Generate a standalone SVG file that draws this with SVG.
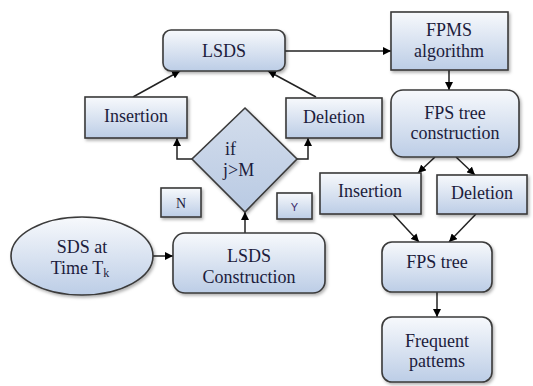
<svg xmlns="http://www.w3.org/2000/svg" width="533" height="386" viewBox="0 0 533 386">
<defs>
<linearGradient id="g" x1="0" y1="0" x2="0" y2="1">
<stop offset="0" stop-color="#f7f9fc"/>
<stop offset="1" stop-color="#bccde6"/>
</linearGradient>
<linearGradient id="gd" x1="0" y1="0" x2="0" y2="1">
<stop offset="0" stop-color="#d3ddec"/>
<stop offset="1" stop-color="#b9cae3"/>
</linearGradient>
<filter id="sh" x="-10%" y="-10%" width="130%" height="130%">
<feDropShadow dx="1.5" dy="2" stdDeviation="1.5" flood-color="#000" flood-opacity="0.3"/>
</filter>
<marker id="ah" viewBox="0 0 10 10" refX="10" refY="5" markerWidth="8" markerHeight="8" markerUnits="userSpaceOnUse" orient="auto">
<path d="M0,0 L10,5 L0,10 z" fill="#000"/>
</marker>
</defs>
<style>
.n{fill:url(#g);stroke:#3a3a3a;stroke-width:1.6;filter:url(#sh)}
.t{font-family:'Liberation Serif','DejaVu Serif',serif;font-size:18px;fill:#1c1c3c;text-anchor:middle}
.c{fill:none;stroke:#222;stroke-width:1.5;marker-end:url(#ah)}
</style>
<g id="connectors">
<path class="c" d="M153,256 L173,256"/>
<path class="c" d="M245,233 L245,212"/>
<path class="c" d="M192,159 L177,159 L177,138"/>
<path class="c" d="M296,159 L308,159 L308,138"/>
<path class="c" d="M133,97 L180,71"/>
<path class="c" d="M316,97 L268,71"/>
<path class="c" d="M285,51 L391,51"/>
<path class="c" d="M449,70 L449,90"/>
<path class="c" d="M435,157 L418,173"/>
<path class="c" d="M456,157 L475,175"/>
<path class="c" d="M393,214 L419,242"/>
<path class="c" d="M476,214 L449,242"/>
<path class="c" d="M437,292 L437,317"/>
</g>
<g id="lsds"><rect class="n" x="163" y="30" width="122" height="41" rx="8"/><text class="t" x="224" y="57">LSDS</text></g>
<g id="insertion-left"><rect class="n" x="85" y="97" width="102" height="41"/><text class="t" x="136" y="122">Insertion</text></g>
<g id="deletion-left"><rect class="n" x="286" y="98" width="96" height="40"/><text class="t" x="334" y="123">Deletion</text></g>
<g id="fpms"><rect class="n" x="391" y="12" width="117" height="58"/><text class="t" x="449" y="36">FPMS</text><text class="t" x="449" y="57">algorithm</text></g>
<g id="fps-construction"><rect class="n" x="391" y="90" width="128" height="67" rx="12"/><text class="t" x="455" y="119">FPS tree</text><text class="t" x="455" y="139">construction</text></g>
<g id="insertion-right"><rect class="n" x="320" y="173" width="101" height="41"/><text class="t" x="370" y="197">Insertion</text></g>
<g id="deletion-right"><rect class="n" x="437" y="175" width="90" height="39"/><text class="t" x="482" y="199">Deletion</text></g>
<g id="fps-tree"><rect class="n" x="382" y="242" width="110" height="50" rx="10"/><text class="t" x="437" y="268">FPS tree</text></g>
<g id="frequent"><rect class="n" x="382" y="317" width="110" height="65" rx="10"/><text class="t" x="437" y="347">Frequent</text><text class="t" x="437" y="367">pattems</text></g>
<g id="decision"><path d="M245,108 L297,159 L245,212 L192,159 z" fill="url(#gd)" stroke="#3a3a3a" stroke-width="1.6" filter="url(#sh)"/><text class="t" x="225" y="155" style="text-anchor:start">if</text><text class="t" x="223" y="176" style="text-anchor:start">j&gt;M</text></g>
<g id="n-label"><rect class="n" x="161" y="188" width="40" height="29"/><text class="t" x="181" y="208" style="font-size:14px">N</text></g>
<g id="y-label"><rect class="n" x="277" y="193" width="35" height="26"/><text x="294.5" y="211" style="font-family:'Liberation Sans','DejaVu Sans',sans-serif;font-size:11px;fill:#3a2a6a;text-anchor:middle">Y</text></g>
<g id="lsds-construction"><rect class="n" x="173" y="233" width="152" height="60" rx="12"/><text class="t" x="249" y="262">LSDS</text><text class="t" x="249" y="283">Construction</text></g>
<g id="sds"><ellipse cx="82" cy="256" rx="71" ry="39" fill="url(#g)" stroke="#3a3a3a" stroke-width="1.6" filter="url(#sh)"/><text class="t" x="82" y="253">SDS at</text><text class="t" x="80" y="274">Time T<tspan font-size="12" dy="3">k</tspan></text></g>
</svg>
